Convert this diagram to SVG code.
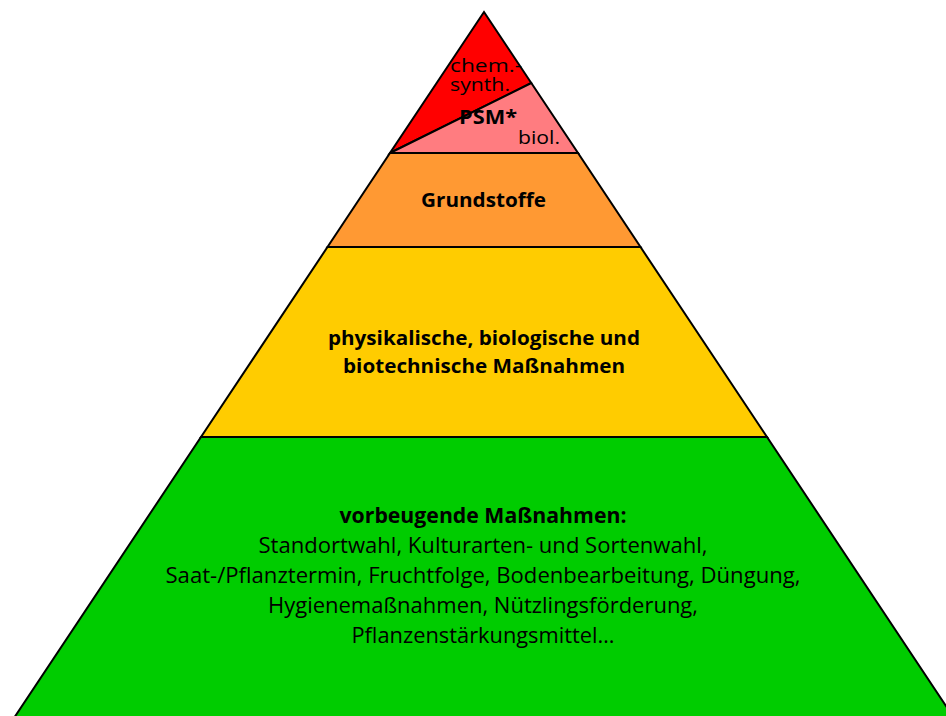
<svg xmlns="http://www.w3.org/2000/svg" width="946" height="716" viewBox="0 0 946 716">
<style>
.band{stroke:#000;stroke-width:2;stroke-linejoin:miter}
text{font-family:"Open Sans","Noto Sans","Liberation Sans",sans-serif;fill:#000;text-anchor:middle}
.b{font-weight:bold;font-size:20px}
.n{font-size:22px}
.s{font-size:19px;text-anchor:start}
</style>
<rect width="946" height="716" fill="#fff"/>
<g id="green">
<polygon class="band" points="201,437 767,437 964,733 4,733" fill="#00CC00"/>
<text class="n" x="483" y="523" textLength="287" lengthAdjust="spacingAndGlyphs" font-weight="bold" font-size="20">vorbeugende Maßnahmen:</text>
<text class="n" x="483" y="553" textLength="449" lengthAdjust="spacingAndGlyphs">Standortwahl, Kulturarten- und Sortenwahl,</text>
<text class="n" x="483" y="583" textLength="635" lengthAdjust="spacingAndGlyphs">Saat-/Pflanztermin, Fruchtfolge, Bodenbearbeitung, Düngung,</text>
<text class="n" x="483" y="613" textLength="430" lengthAdjust="spacingAndGlyphs">Hygienemaßnahmen, Nützlingsförderung,</text>
<text class="n" x="483" y="643" textLength="263" lengthAdjust="spacingAndGlyphs">Pflanzenstärkungsmittel…</text>
</g>
<g id="yellow">
<polygon class="band" points="327.5,247 640.5,247 767,437 201,437" fill="#FFCC00"/>
<text class="b" x="484" y="345" textLength="312" lengthAdjust="spacingAndGlyphs">physikalische, biologische und</text>
<text class="b" x="484" y="373" textLength="282" lengthAdjust="spacingAndGlyphs">biotechnische Maßnahmen</text>
</g>
<g id="orange">
<polygon class="band" points="390,153 578,153 640.5,247 327.5,247" fill="#FF9933"/>
<text class="b" x="483.5" y="207" textLength="125" lengthAdjust="spacingAndGlyphs">Grundstoffe</text>
</g>
<g id="psm">
<polygon class="band" points="484,12 531.3,83 390,153" fill="#FF0000"/>
<polygon class="band" points="390,153 531.3,83 578,153" fill="#FF7C80"/>
<text class="s" x="450" y="72" textLength="72" lengthAdjust="spacingAndGlyphs">chem.-</text>
<text class="s" x="450" y="91" textLength="60" lengthAdjust="spacingAndGlyphs">synth.</text>
<text class="b" x="488" y="124" textLength="58" lengthAdjust="spacingAndGlyphs">PSM*</text>
<text class="s" x="518" y="144" textLength="42" lengthAdjust="spacingAndGlyphs">biol.</text>
</g>
<g id="connectors"></g>
</svg>
